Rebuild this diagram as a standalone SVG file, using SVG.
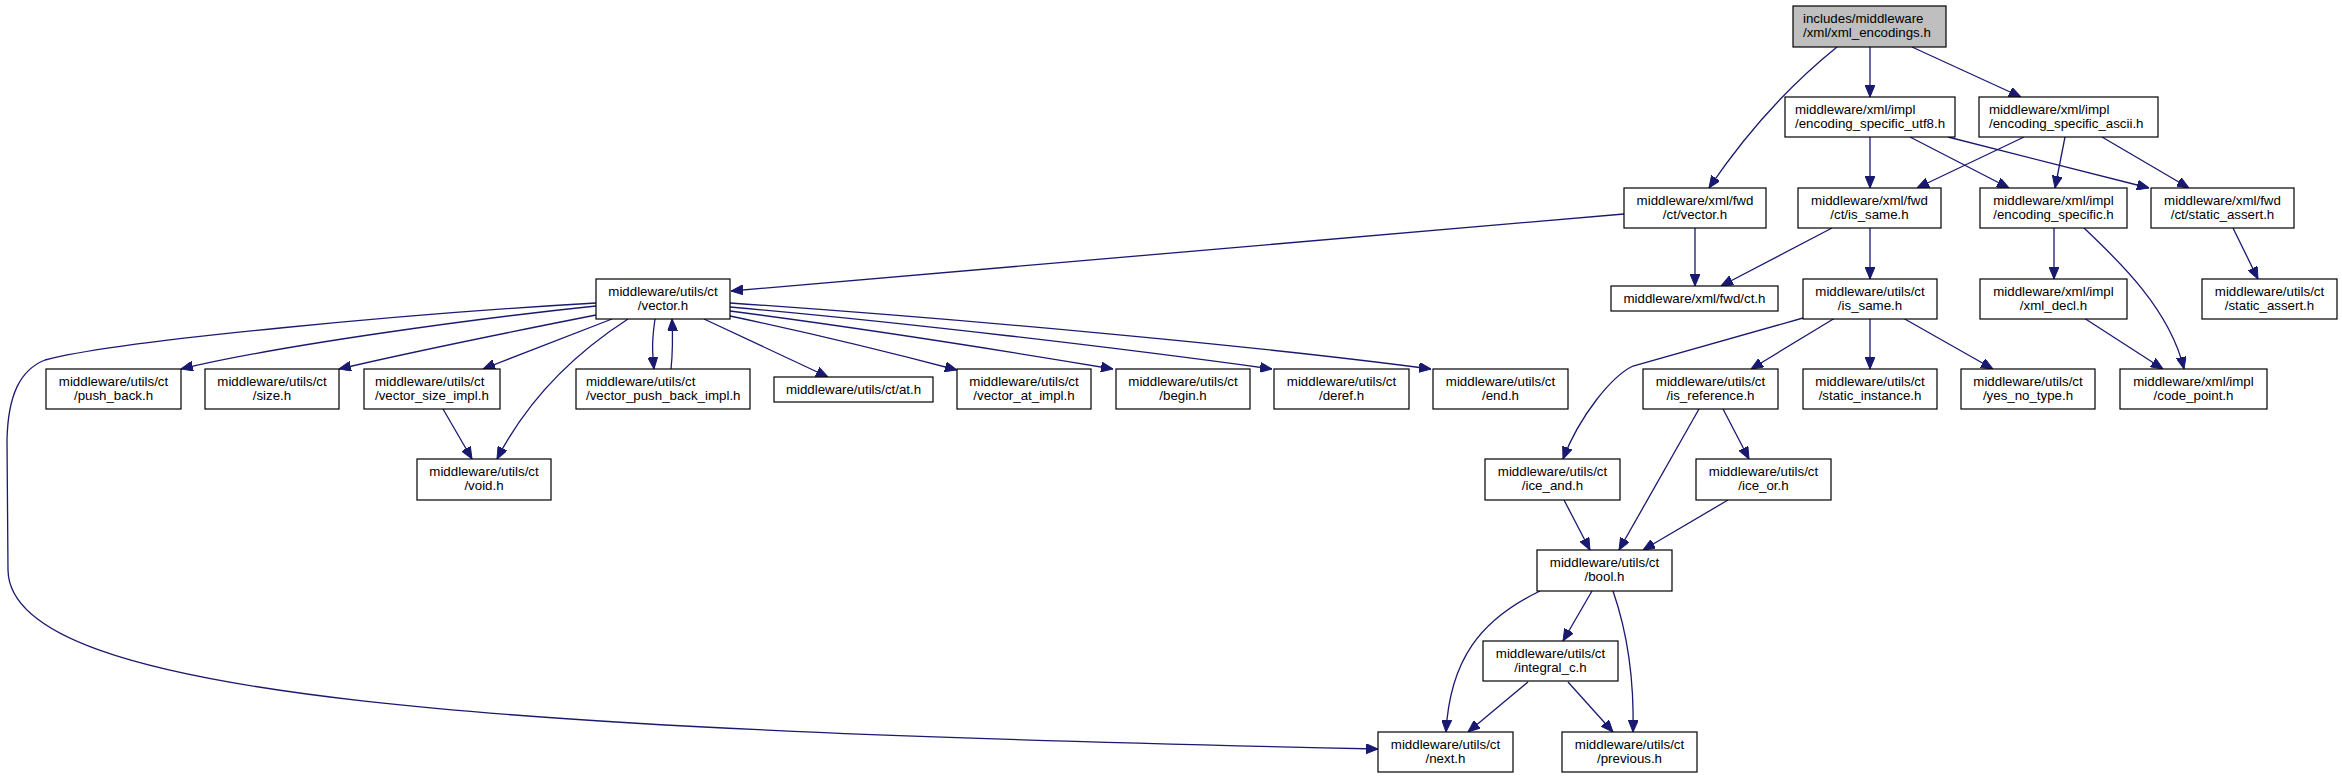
<svg xmlns="http://www.w3.org/2000/svg" width="2342" height="779" viewBox="0 0 2342 779">
<style>
.n rect{fill:#fff;stroke:#000;stroke-width:1.2}
.n.root rect{fill:#bfbfbf}
.n text{font-family:"Liberation Sans",Arial,sans-serif;font-size:13.3px;fill:#000}
.c{text-anchor:middle}
.e path{fill:none;stroke:#191970;stroke-width:1.3;marker-end:url(#a)}
</style>
<defs>
<marker id="a" markerUnits="userSpaceOnUse" viewBox="0 0 12 10" markerWidth="12" markerHeight="10" refX="12" refY="5" orient="auto">
<path d="M0,0 L12,5 L0,10 z" fill="#191970" stroke="#191970" stroke-width="1"/>
</marker>
</defs>
<rect width="2342" height="779" fill="#fff"/>
<g class="e" id="edges">
<path d="M1837,47 Q1765,105 1709,188"/>
<path d="M1870,47 L1870,97"/>
<path d="M1912,47 L2021,97"/>
<path d="M1870,137 L1870,188"/>
<path d="M1910,137 L2009,188"/>
<path d="M1948,137 L2149,188"/>
<path d="M2024,137 L1917,188"/>
<path d="M2065,137 L2055,188"/>
<path d="M2102,137 L2189,188"/>
<path d="M1624,214 L731,291"/>
<path d="M1695,228 L1695,286"/>
<path d="M1832,228 L1721,286"/>
<path d="M1870,228 L1870,279"/>
<path d="M2054,228 L2054,279"/>
<path d="M2084,228 C2120,262 2170,310 2184,369"/>
<path d="M2233,228 L2258,279"/>
<path d="M1803,318 L1633,366 C1612,376 1580,415 1563,459"/>
<path d="M1835,318 L1751,369"/>
<path d="M1870,318 L1870,369"/>
<path d="M1903,318 L1993,369"/>
<path d="M2084,318 L2163,369"/>
<path d="M1723,409 L1749,459"/>
<path d="M1699,409 L1619,550"/>
<path d="M1728,500 L1643,550"/>
<path d="M1564,500 L1590,550"/>
<path d="M1540,591 C1480,620 1450,660 1446,732"/>
<path d="M1592,591 L1563,641"/>
<path d="M1613,591 C1630,640 1634,690 1633,732"/>
<path d="M1528,682 L1468,732"/>
<path d="M1568,682 L1613,732"/>
<path d="M596,303 C420,313 120,340 45,360 C20,370 8,395 7,440 L8,570 C10,700 500,730 1378,749"/>
<path d="M596,306 C480,318 280,345 181,369"/>
<path d="M596,315 C520,330 420,350 339,369"/>
<path d="M612,319 L483,369"/>
<path d="M628,319 C580,350 530,395 497,459"/>
<path d="M655,319 C652,340 652,350 654,369"/>
<path d="M671,369 C673,350 673,340 672,319"/>
<path d="M443,409 L472,459"/>
<path d="M704,319 L828,377"/>
<path d="M730,303 C950,318 1250,345 1431,369"/>
<path d="M730,307 C900,322 1120,348 1272,369"/>
<path d="M730,311 C860,328 1000,350 1113,369"/>
<path d="M730,316 C820,335 900,355 957,370"/>
</g>
<g class="n root" id="root"><rect x="1793" y="6" width="153" height="41"/><text x="1803" y="23">includes/middleware</text><text x="1803" y="37">/xml/xml_encodings.h</text></g>
<g class="n" id="utf8"><rect x="1785" y="97" width="170" height="40"/><text x="1795" y="113.5">middleware/xml/impl</text><text x="1795" y="127.5">/encoding_specific_utf8.h</text></g>
<g class="n" id="ascii"><rect x="1979" y="97" width="179" height="40"/><text x="1989" y="113.5">middleware/xml/impl</text><text x="1989" y="127.5">/encoding_specific_ascii.h</text></g>
<g class="n" id="fwd_vector"><rect x="1624" y="188" width="142" height="40"/><text class="c" x="1695" y="204.5">middleware/xml/fwd</text><text class="c" x="1695" y="218.5">/ct/vector.h</text></g>
<g class="n" id="fwd_is_same"><rect x="1798" y="188" width="143" height="40"/><text class="c" x="1869.5" y="204.5">middleware/xml/fwd</text><text class="c" x="1869.5" y="218.5">/ct/is_same.h</text></g>
<g class="n" id="enc_spec"><rect x="1980" y="188" width="147" height="40"/><text class="c" x="2053.5" y="204.5">middleware/xml/impl</text><text class="c" x="2053.5" y="218.5">/encoding_specific.h</text></g>
<g class="n" id="fwd_static_assert"><rect x="2151" y="188" width="143" height="40"/><text class="c" x="2222.5" y="204.5">middleware/xml/fwd</text><text class="c" x="2222.5" y="218.5">/ct/static_assert.h</text></g>
<g class="n" id="utils_vector"><rect x="596" y="279" width="134" height="40"/><text class="c" x="663" y="295.5">middleware/utils/ct</text><text class="c" x="663" y="309.5">/vector.h</text></g>
<g class="n" id="fwd_ct"><rect x="1611" y="286" width="167" height="25"/><text class="c" x="1694.5" y="303">middleware/xml/fwd/ct.h</text></g>
<g class="n" id="utils_is_same"><rect x="1803" y="279" width="134" height="40"/><text class="c" x="1870" y="295.5">middleware/utils/ct</text><text class="c" x="1870" y="309.5">/is_same.h</text></g>
<g class="n" id="xml_decl"><rect x="1980" y="279" width="147" height="40"/><text class="c" x="2053.5" y="295.5">middleware/xml/impl</text><text class="c" x="2053.5" y="309.5">/xml_decl.h</text></g>
<g class="n" id="utils_static_assert"><rect x="2202" y="279" width="135" height="40"/><text class="c" x="2269.5" y="295.5">middleware/utils/ct</text><text class="c" x="2269.5" y="309.5">/static_assert.h</text></g>
<g class="n" id="push_back"><rect x="46" y="369" width="135" height="40"/><text class="c" x="113.5" y="385.5">middleware/utils/ct</text><text class="c" x="113.5" y="399.5">/push_back.h</text></g>
<g class="n" id="size"><rect x="205" y="369" width="134" height="40"/><text class="c" x="272" y="385.5">middleware/utils/ct</text><text class="c" x="272" y="399.5">/size.h</text></g>
<g class="n" id="vector_size_impl"><rect x="364" y="369" width="136" height="40"/><text x="375" y="385.5">middleware/utils/ct</text><text x="375" y="399.5">/vector_size_impl.h</text></g>
<g class="n" id="vector_push_back_impl"><rect x="576" y="369" width="174" height="40"/><text x="586" y="385.5">middleware/utils/ct</text><text x="586" y="399.5">/vector_push_back_impl.h</text></g>
<g class="n" id="at"><rect x="774" y="377" width="159" height="25"/><text class="c" x="853.5" y="394">middleware/utils/ct/at.h</text></g>
<g class="n" id="vector_at_impl"><rect x="957" y="369" width="134" height="40"/><text class="c" x="1024" y="385.5">middleware/utils/ct</text><text class="c" x="1024" y="399.5">/vector_at_impl.h</text></g>
<g class="n" id="begin"><rect x="1116" y="369" width="134" height="40"/><text class="c" x="1183" y="385.5">middleware/utils/ct</text><text class="c" x="1183" y="399.5">/begin.h</text></g>
<g class="n" id="deref"><rect x="1274" y="369" width="135" height="40"/><text class="c" x="1341.5" y="385.5">middleware/utils/ct</text><text class="c" x="1341.5" y="399.5">/deref.h</text></g>
<g class="n" id="end"><rect x="1433" y="369" width="135" height="40"/><text class="c" x="1500.5" y="385.5">middleware/utils/ct</text><text class="c" x="1500.5" y="399.5">/end.h</text></g>
<g class="n" id="is_reference"><rect x="1643" y="369" width="135" height="40"/><text class="c" x="1710.5" y="385.5">middleware/utils/ct</text><text class="c" x="1710.5" y="399.5">/is_reference.h</text></g>
<g class="n" id="static_instance"><rect x="1803" y="369" width="134" height="40"/><text class="c" x="1870" y="385.5">middleware/utils/ct</text><text class="c" x="1870" y="399.5">/static_instance.h</text></g>
<g class="n" id="yes_no_type"><rect x="1961" y="369" width="134" height="40"/><text class="c" x="2028" y="385.5">middleware/utils/ct</text><text class="c" x="2028" y="399.5">/yes_no_type.h</text></g>
<g class="n" id="code_point"><rect x="2120" y="369" width="147" height="40"/><text class="c" x="2193.5" y="385.5">middleware/xml/impl</text><text class="c" x="2193.5" y="399.5">/code_point.h</text></g>
<g class="n" id="void"><rect x="417" y="459" width="134" height="41"/><text class="c" x="484" y="476">middleware/utils/ct</text><text class="c" x="484" y="490">/void.h</text></g>
<g class="n" id="ice_and"><rect x="1485" y="459" width="135" height="41"/><text class="c" x="1552.5" y="476">middleware/utils/ct</text><text class="c" x="1552.5" y="490">/ice_and.h</text></g>
<g class="n" id="ice_or"><rect x="1696" y="459" width="135" height="41"/><text class="c" x="1763.5" y="476">middleware/utils/ct</text><text class="c" x="1763.5" y="490">/ice_or.h</text></g>
<g class="n" id="bool"><rect x="1537" y="550" width="135" height="41"/><text class="c" x="1604.5" y="567">middleware/utils/ct</text><text class="c" x="1604.5" y="581">/bool.h</text></g>
<g class="n" id="integral_c"><rect x="1483" y="641" width="135" height="40"/><text class="c" x="1550.5" y="657.5">middleware/utils/ct</text><text class="c" x="1550.5" y="671.5">/integral_c.h</text></g>
<g class="n" id="next"><rect x="1378" y="732" width="135" height="40"/><text class="c" x="1445.5" y="748.5">middleware/utils/ct</text><text class="c" x="1445.5" y="762.5">/next.h</text></g>
<g class="n" id="previous"><rect x="1562" y="732" width="135" height="40"/><text class="c" x="1629.5" y="748.5">middleware/utils/ct</text><text class="c" x="1629.5" y="762.5">/previous.h</text></g>
</svg>
